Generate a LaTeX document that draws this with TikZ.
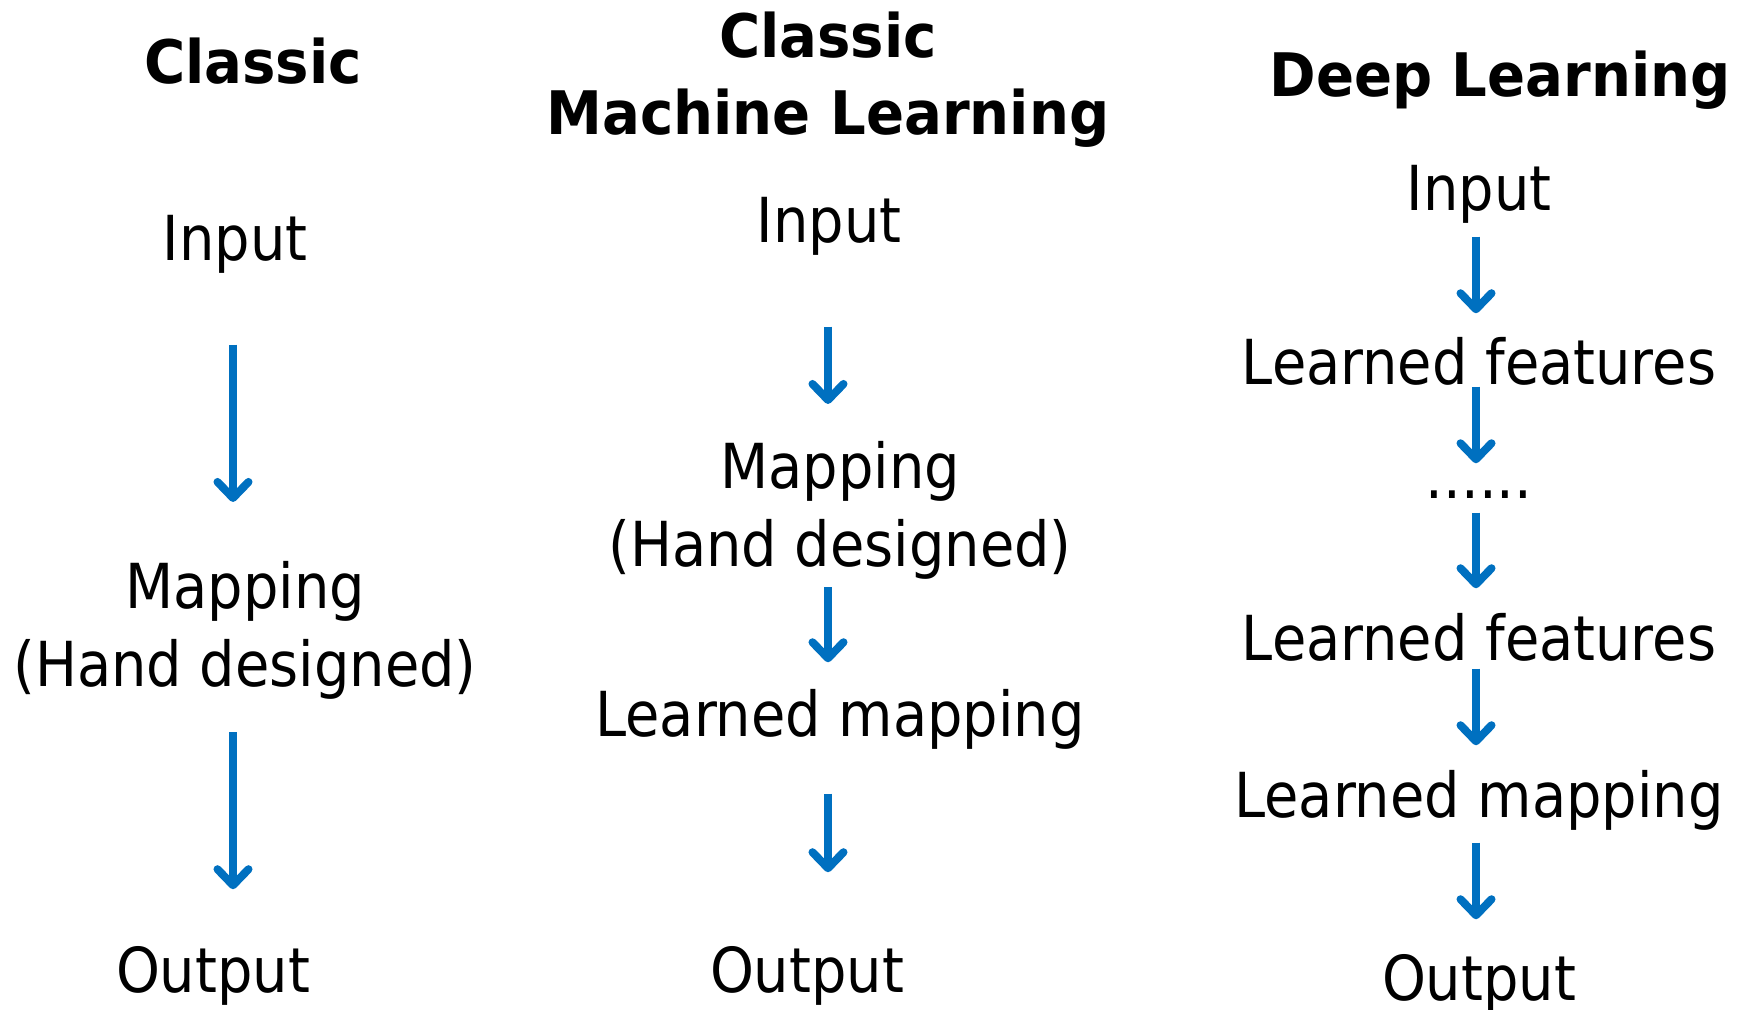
\documentclass[tikz,border=0pt]{standalone}
\usepackage{fontspec}
\setmainfont{DejaVu Sans}[UprightFeatures={FakeStretch=0.9}, BoldFeatures={FakeStretch=0.935}]
\usetikzlibrary{arrows.meta}

\definecolor{flowblue}{HTML}{0070C0}
\newcommand\stepfont{\fontsize{17.64pt}{22.17pt}\selectfont}
\newcommand\headingfont{\fontsize{17.07pt}{21.9pt}\selectfont\bfseries}

\begin{document}
\begin{tikzpicture}[x=0.01cm,y=-0.01cm]
    %
    % `heading' is for the column titles, `word' for one-line steps,
    % `lines' for the two-line steps and `flow' for the blue arrows.
    \tikzstyle{heading} = [font=\headingfont,inner sep=0pt,align=center,anchor=base]
    \tikzstyle{word} = [font=\stepfont,inner sep=0pt,anchor=base,text height=4.7mm,text depth=1.3mm]
    \tikzstyle{lines} = [font=\stepfont,inner sep=0pt,anchor=north,align=center]
    \tikzstyle{flow} = [draw=flowblue,line width=0.8mm,-{Straight Barb[length=1.6mm,width=3.1mm,round]}]
    \useasboundingbox (0,0) rectangle (1742,1010);
    %
    % Column 1
    \coordinate (c1) at (233,0);
    \node[heading] (t1) at (253,84) {Classic};
    \node[word] (in1) at (235,261) {Input};
    \node[lines] (map1) at (245,561) {Mapping\\(Hand designed)};
    \node[word] (out1) at (213,992) {Output};
    \draw[flow,shorten <=7mm,shorten >=5.9mm] (in1.south -| c1) -- (map1.north -| c1);
    \draw[flow,shorten <=3.2mm,shorten >=5.5mm] (map1.south -| c1) -- (out1.north -| c1);
    %
    % Column 2
    \coordinate (c2) at (828,0);
    \node[heading,anchor=north] (t2) at (828,11) {Classic\\Machine Learning};
    \node[word] (in2) at (829,243) {Input};
    \node[lines] (map2) at (840,441) {Mapping\\(Hand designed)};
    \node[word] (lmap2) at (840,737) {Learned mapping};
    \node[word] (out2) at (807,992) {Output};
    \draw[flow,shorten <=7mm,shorten >=3.7mm] (in2.south -| c2) -- (map2.north -| c2);
    \draw[flow,shorten <=0.7mm,shorten >=2.7mm] (map2.south -| c2) -- (lmap2.north -| c2);
    \draw[flow,shorten <=4.3mm,shorten >=7.2mm] (lmap2.south -| c2) -- (out2.north -| c2);
    %
    % Column 3
    \coordinate (c3) at (1476,0);
    \node[heading] (t3) at (1500,97) {Deep Learning};
    \node[word] (in3) at (1479,211) {Input};
    \node[word] (feat3a) at (1479,385) {Learned features};
    \node[word] (dots3) at (1479,499) {......};
    \node[word] (feat3b) at (1479,661) {Learned features};
    \node[word] (lmap3) at (1479,818) {Learned mapping};
    \node[word] (out3) at (1479,1000) {Output};
    \draw[flow,shorten <=1.2mm,shorten >=2.4mm] (in3.south -| c3) -- (feat3a.north -| c3);
    \draw[flow,shorten <=-1.2mm,shorten >=-1.2mm] (feat3a.south -| c3) -- (dots3.north -| c3);
    \draw[flow,shorten <=0mm,shorten >=2.5mm] (dots3.south -| c3) -- (feat3b.north -| c3);
    \draw[flow,shorten <=-0.6mm,shorten >=2.5mm] (feat3b.south -| c3) -- (lmap3.north -| c3);
    \draw[flow,shorten <=1.1mm,shorten >=3.3mm] (lmap3.south -| c3) -- (out3.north -| c3);
    %
\end{tikzpicture}
\end{document}
